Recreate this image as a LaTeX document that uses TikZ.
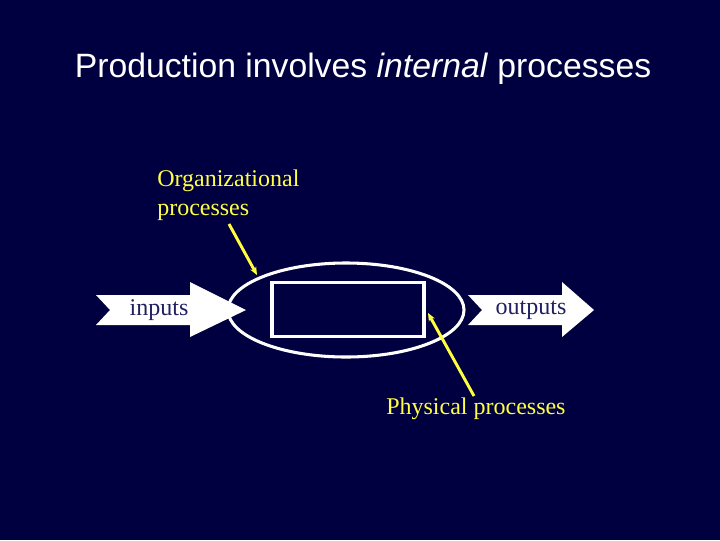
\documentclass[tikz,border=0pt]{standalone}
\usepackage{fontspec}
\setmainfont{Liberation Serif}
\setsansfont{Liberation Sans}
\usetikzlibrary{shapes.geometric,arrows.meta}
\definecolor{bg}{HTML}{000040}
\definecolor{lab}{HTML}{FFFF40}
\definecolor{intc}{HTML}{202060}
\begin{document}
\begin{tikzpicture}[x=0.75pt,y=-0.75pt,
  fat/.style={fill=white,draw=none},
  lbl/.style={text=lab,font=\fontsize{18}{21.5}\selectfont,align=left},
  intxt/.style={text=intc,font=\fontsize{18}{21.5}\selectfont},
  ptr/.style={draw=lab,line width=2.2pt,-{Stealth[length=6pt,width=5pt]}}]
\fill[bg] (0,0) rectangle (720,540);
\useasboundingbox (0,0) rectangle (720,540);
\node[text=white,font=\sffamily\fontsize{25.3}{28}\selectfont] (title) at (363,69) {Production involves \textit{internal} processes};
\fill[fat] (96,295) -- (190,295) -- (190,282) -- (246,310) -- (190,337) -- (190,325) -- (96,325) -- (110,310) -- cycle;
\fill[fat] (468,295) -- (562,295) -- (562,282) -- (594,310) -- (562,337) -- (562,325) -- (468,325) -- (482,310) -- cycle;
\node[intxt] (in) at (159,310) {inputs};
\node[intxt] (out) at (531,310) {outputs};
\node[draw=white,line width=2.3pt,ellipse,minimum width=177pt,minimum height=70.5pt,inner sep=0] (ell) at (346,310) {};
\node[draw=white,line width=2.3pt,minimum width=114pt,minimum height=41pt,inner sep=0] (box) at (348,309.5) {};
\node[lbl,anchor=north west,inner sep=0] (org) at (157,170) {Organizational\\processes};
\node[lbl,anchor=north west,inner sep=0] (phys) at (386,398) {Physical processes};
\coordinate (o1) at (229,224);
\coordinate (o2) at (257,275);
\coordinate (p1) at (474,396);
\coordinate (p2) at (428,313);
\draw[ptr] (o1) -- (o2);
\draw[ptr] (p1) -- (p2);
\end{tikzpicture}
\end{document}
